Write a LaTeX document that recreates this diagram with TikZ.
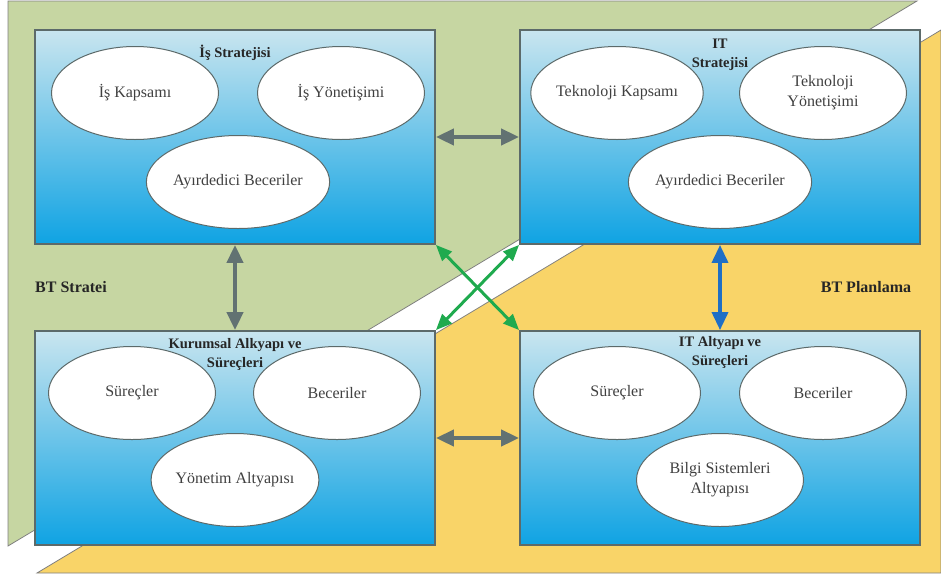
\documentclass[tikz,border=0pt]{standalone}
\usepackage{fontspec}
\setmainfont{Liberation Serif}
\usetikzlibrary{shapes.geometric, calc, arrows.meta, positioning}
\usepackage{xcolor}
\definecolor{bggreen}{HTML}{C6D6A2}
\definecolor{bgyellow}{HTML}{F9D468}
\definecolor{boxtop}{HTML}{C9E5EF}
\definecolor{boxbottom}{HTML}{0FA3E3}
\definecolor{edgegray}{HTML}{5C6A6A}
\definecolor{arrgray}{HTML}{627272}
\definecolor{arrblue}{HTML}{1F6FC6}
\definecolor{arrgreen}{HTML}{1FAA4E}

\begin{document}
\begin{tikzpicture}[x=1pt,y=-1pt,
    block/.style={rectangle, draw=edgegray, line width=1.8pt, top color=boxtop, bottom color=boxbottom,
      minimum width=400pt, minimum height=214pt, inner sep=0pt},
    item/.style={ellipse, draw=edgegray, fill=white, line width=1pt, minimum width=167pt, minimum height=93pt,
      inner sep=0pt, align=center, text=black!75, font=\fontsize{16}{20}\selectfont},
    heading/.style={inner sep=0pt, align=center, text=black!85, font=\bfseries\fontsize{14.5}{19}\selectfont},
    side/.style={inner sep=0pt, text=black!85, font=\bfseries\fontsize{16}{19}\selectfont},
    link/.style={line width=4pt, arrgray, {Triangle[length=18pt,width=16pt]}-{Triangle[length=18pt,width=16pt]}},
    cross/.style={line width=3pt, arrgreen, {Triangle[length=16pt,width=13pt]}-{Triangle[length=16pt,width=13pt]}}]
  \useasboundingbox (0,0) rectangle (941,579);
  % background layers
  \filldraw[bggreen, draw=gray, line width=0.8pt] (8,1) -- (917,1) -- (8,546) -- cycle;
  \filldraw[bgyellow, draw=gray, line width=0.8pt] (37,573) -- (941,30) -- (941,573) -- cycle;

  \node[block] (is) at (235,137) {};
  \node[block] (its) at (720,137) {};
  \node[block] (kur) at (235,438) {};
  \node[block] (ita) at (720,438) {};

  \node[heading] at ([yshift=-24pt]is.north) {İş Stratejisi};
  \node[heading] at ([yshift=-26pt]its.north) {IT\\Stratejisi};
  \node[heading] at ([yshift=-24pt]kur.north) {Kurumsal Alkyapı ve\\Süreçleri};
  \node[heading] at ([yshift=-22pt]ita.north) {IT Altyapı ve\\Süreçleri};

  \node[item] (isk) at ([shift={(-100,-44)}]is.center) {İş Kapsamı};
  \node[item] (isy) at ([shift={(106,-44)}]is.center) {İş Yönetişimi};
  \node[item] (isb) at ([shift={(3,45)}]is.center) {Ayırdedici Beceriler};

  \node[item] (tk) at ([shift={(-103,-44)}]its.center) {Teknoloji Kapsamı};
  \node[item] (ty) at ([shift={(103,-44)}]its.center) {Teknoloji\\Yönetişimi};
  \node[item] (tb) at ([shift={(0,45)}]its.center) {Ayırdedici Beceriler};

  \node[item] (ks) at ([shift={(-103,-45)}]kur.center) {Süreçler};
  \node[item] (kb) at ([shift={(102,-45)}]kur.center) {Beceriler};
  \node[item] (ky) at ([shift={(0,42)}]kur.center) {Yönetim Altyapısı};

  \node[item] (as) at ([shift={(-103,-45)}]ita.center) {Süreçler};
  \node[item] (ab) at ([shift={(103,-45)}]ita.center) {Beceriler};
  \node[item] (ai) at ([shift={(0,42)}]ita.center) {Bilgi Sistemleri\\Altyapısı};

  \node[side] (strat) at (71,287) {BT Stratei};
  \node[side] (plan) at (866,287) {BT Planlama};

  % links between the four blocks
  \draw[link] (is.east) -- (its.west);
  \draw[link] (is.south) -- (kur.north);
  \draw[link] (kur.east) -- (ita.west);
  \draw[link, arrblue, line width=3.5pt] (its.south) -- (ita.north);
  \draw[cross] (is.south east) -- (ita.north west);
  \draw[cross] (its.south west) -- (kur.north east);
\end{tikzpicture}
\end{document}
